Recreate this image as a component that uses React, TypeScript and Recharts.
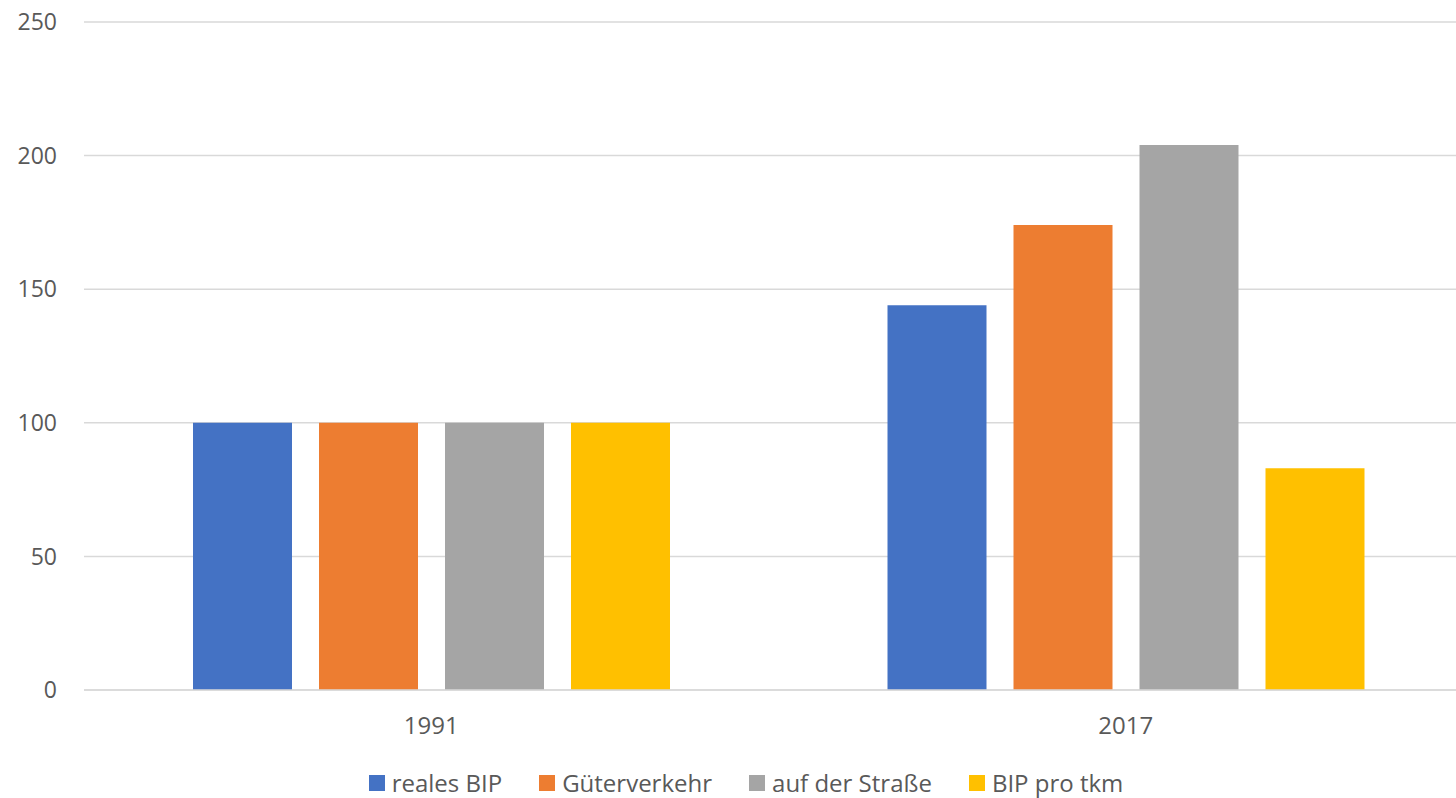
import React from 'react';
import { BarChart, Bar, XAxis, YAxis, CartesianGrid, Legend } from 'recharts';

const years = ['1991', '2017'];
const realesBip = [100, 144];
const gueterverkehr = [100, 174];
const aufDerStrasse = [100, 204];
const bipProTkm = [100, 83];
const yTicks = [0, 50, 100, 150, 200, 250];

const SERIES = [
  { key: 'realesBip', name: 'reales BIP', color: '#4472c4' },
  { key: 'gueterverkehr', name: 'Güterverkehr', color: '#ed7d31' },
  { key: 'aufDerStrasse', name: 'auf der Straße', color: '#a5a5a5' },
  { key: 'bipProTkm', name: 'BIP pro tkm', color: '#ffc000' },
];

const data = years.map((year, i) => ({
  year,
  realesBip: realesBip[i],
  gueterverkehr: gueterverkehr[i],
  aufDerStrasse: aufDerStrasse[i],
  bipProTkm: bipProTkm[i],
}));

const FONT = '"Open Sans", "Liberation Sans", sans-serif';

const LegendContent = () => (
  <div
    style={{
      width: 1456,
      display: 'flex',
      justifyContent: 'center',
      paddingLeft: 36,
      boxSizing: 'border-box',
      fontFamily: FONT,
      fontSize: 24,
      lineHeight: '32px',
      color: '#595959',
      gap: 37,
    }}
  >
    {SERIES.map((s) => (
      <div key={s.key} style={{ display: 'flex', alignItems: 'center', gap: 7 }}>
        <div style={{ width: 16, height: 16, backgroundColor: s.color }}></div>
        {s.name}
      </div>
    ))}
  </div>
);

export default function App() {
  return (
    <div style={{ position: 'absolute', left: 0, top: 0, width: 1456, height: 798, overflow: 'hidden', background: '#fff' }}>
      <BarChart
        width={1480}
        height={798}
        data={data}
        margin={{ top: 22, right: 7, bottom: 0, left: 0 }}
        barCategoryGap={108}
        barGap={27}
        barSize={99}
      >
        <CartesianGrid vertical={false} stroke="#d9d9d9" strokeWidth={1.5} />
        <XAxis
          dataKey="year"
          height={50}
          axisLine={{ stroke: '#d9d9d9', strokeWidth: 1.5 }}
          tickLine={false}
          tickSize={0}
          tickMargin={27}
          tick={{ fill: '#595959', fontSize: 24, fontFamily: FONT }}
        />
        <YAxis
          width={84}
          domain={[0, 250]}
          ticks={yTicks}
          axisLine={false}
          tickLine={false}
          tickSize={0}
          tickMargin={27}
          tick={{ fill: '#595959', fontSize: 23, fontFamily: FONT }}
        />
        <Legend verticalAlign="bottom" height={58} content={<LegendContent />} wrapperStyle={{ left: 0, width: 1456, top: 767 }} />
        {SERIES.map((s) => (
          <Bar key={s.key} dataKey={s.key} name={s.name} fill={s.color} isAnimationActive={false} />
        ))}
      </BarChart>
    </div>
  );
}
